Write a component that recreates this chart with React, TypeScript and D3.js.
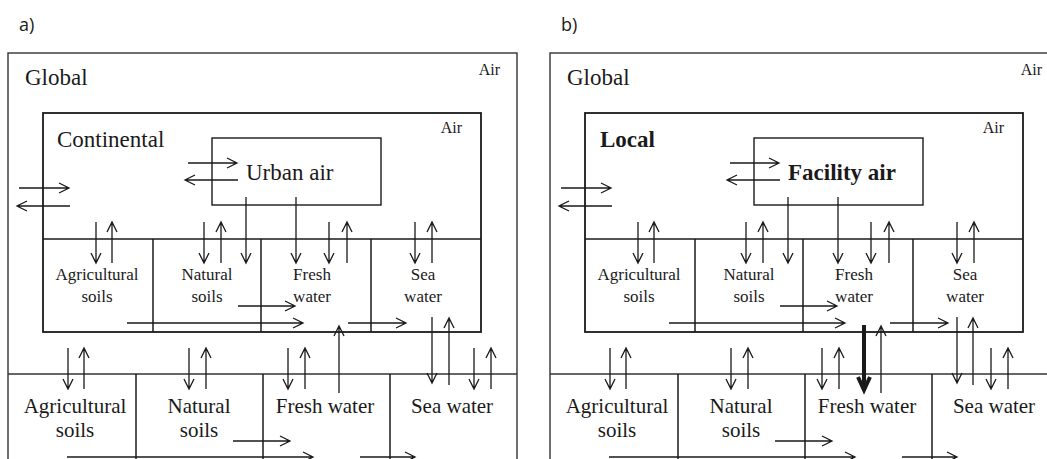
import React, { useEffect, useRef } from 'react';
import * as d3 from 'd3';

// panel labels and box texts
const panels = ['a)', 'b)'];
const regionNames = ['Continental', 'Local'];
const innerAirNames = ['Urban air', 'Facility air'];
const regionBold = [false, true];
const upperCompartments = [['Agricultural', 'soils'], ['Natural', 'soils'], ['Fresh', 'water'], ['Sea', 'water']];
const lowerCompartments = [['Agricultural', 'soils'], ['Natural', 'soils'], ['Fresh water'], ['Sea water']];

// diagram geometry in panel-local units [x1, y1, x2, y2]
const globalBox = [8, 53, 517, 520];
const regionBox = [43, 113, 481, 332];
const innerAirBox = [212, 138, 381, 205];
const upperDividers = [153, 261, 371];
const upperRowTop = 239;
const lowerRowTop = 374;
const lowerDividers = [136, 263, 390];
const upperCenters = [97, 207, 312, 423];
const lowerCenters = [75, 199, 325, 452];

// flows, both panels
const commonArrows = [
  [19, 188, 69, 188], [70, 206, 17, 206],
  [188, 163, 237, 163], [238, 180, 185, 180],
  [96, 222, 96, 263], [112, 263, 112, 222],
  [204, 222, 204, 263], [221, 263, 221, 222],
  [246, 197, 246, 263], [296, 197, 296, 263],
  [329, 222, 329, 263], [347, 263, 347, 222],
  [415, 222, 415, 263], [432, 263, 432, 222],
  [127, 323, 303, 323], [238, 306, 295, 306], [348, 323, 406, 323],
  [339, 393, 339, 326],
  [68, 348, 68, 389], [84, 389, 84, 348],
  [189, 348, 189, 389], [206, 389, 206, 348],
  [233, 441, 290, 441], [67, 457, 313, 457], [360, 457, 415, 457],
];
const arrowsA = [
  [288, 348, 288, 389], [305, 389, 305, 348],
  [474, 348, 474, 389], [491, 389, 491, 348],
  [432, 317, 432, 383], [449, 385, 449, 318],
];
const arrowsB = [
  [280, 348, 280, 389], [297, 389, 297, 348],
  [449, 348, 449, 389], [466, 389, 466, 348],
  [415, 317, 415, 383], [431, 385, 431, 318],
];
const thickArrowsB = [[322, 325, 322, 390]];
const panelOffsets = [0, 542];

const serif = '"Liberation Serif", "Times New Roman", serif';
const ink = '#1a1a1a';

const App = () => {
  const ref = useRef<SVGSVGElement>(null);

  useEffect(() => {
    const svg = d3.select(ref.current);
    svg.selectAll('*').remove();

    const drawArrow = (g, a, w = 1.3, head = 10, half = 5) => {
      const [x1, y1, x2, y2] = a;
      const ang = Math.atan2(y2 - y1, x2 - x1);
      const p = d3.path();
      p.moveTo(x1, y1);
      p.lineTo(x2, y2);
      p.moveTo(x2 - head * Math.cos(ang) + half * Math.sin(ang), y2 - head * Math.sin(ang) - half * Math.cos(ang));
      p.lineTo(x2, y2);
      p.lineTo(x2 - head * Math.cos(ang) - half * Math.sin(ang), y2 - head * Math.sin(ang) + half * Math.cos(ang));
      g.append('path')
        .attr('d', p.toString())
        .attr('fill', 'none')
        .attr('stroke', ink)
        .attr('stroke-width', w)
        .attr('stroke-linejoin', 'miter');
    };

    panelOffsets.forEach((off, i) => {
      const g = svg.append('g').attr('transform', `translate(${off},0)`);

      g.append('text')
        .attr('x', 19).attr('y', 31)
        .style('font-family', '"Open Sans", "Liberation Sans", sans-serif')
        .style('font-size', '18px')
        .attr('fill', ink)
        .text(panels[i]);

      // global box (panel b runs off the right edge)
      const gRight = i === 0 ? globalBox[2] : 520;
      g.append('rect')
        .attr('x', globalBox[0]).attr('y', globalBox[1])
        .attr('width', gRight - globalBox[0]).attr('height', globalBox[3] - globalBox[1])
        .attr('fill', 'none').attr('stroke', '#333').attr('stroke-width', 1.4);

      // lower row
      g.append('line')
        .attr('x1', globalBox[0]).attr('x2', gRight)
        .attr('y1', lowerRowTop).attr('y2', lowerRowTop)
        .attr('stroke', '#333').attr('stroke-width', 1.4);
      lowerDividers.forEach(x => {
        g.append('line')
          .attr('x1', x).attr('x2', x).attr('y1', lowerRowTop).attr('y2', 470)
          .attr('stroke', ink).attr('stroke-width', 1.5);
      });

      // regional box
      g.append('rect')
        .attr('x', regionBox[0]).attr('y', regionBox[1])
        .attr('width', regionBox[2] - regionBox[0]).attr('height', regionBox[3] - regionBox[1])
        .attr('fill', 'none').attr('stroke', ink).attr('stroke-width', 1.8);
      g.append('line')
        .attr('x1', regionBox[0]).attr('x2', regionBox[2])
        .attr('y1', upperRowTop).attr('y2', upperRowTop)
        .attr('stroke', ink).attr('stroke-width', 1.5);
      upperDividers.forEach(x => {
        g.append('line')
          .attr('x1', x).attr('x2', x).attr('y1', upperRowTop).attr('y2', regionBox[3])
          .attr('stroke', ink).attr('stroke-width', 1.5);
      });

      // inner air box
      g.append('rect')
        .attr('x', innerAirBox[0]).attr('y', innerAirBox[1])
        .attr('width', innerAirBox[2] - innerAirBox[0]).attr('height', innerAirBox[3] - innerAirBox[1])
        .attr('fill', 'none').attr('stroke', ink).attr('stroke-width', 1.4);

      const label = (x, y, txt, size, anchor = 'start', bold = false) =>
        g.append('text')
          .attr('x', x).attr('y', y)
          .attr('text-anchor', anchor)
          .style('font-family', serif)
          .style('font-size', `${size}px`)
          .style('font-weight', bold ? 'bold' : 'normal')
          .attr('fill', ink)
          .text(txt);

      label(25, 85, 'Global', 23);
      label(500, 75, 'Air', 16, 'end');
      label(462, 133, 'Air', 16, 'end');
      label(i === 0 ? 57 : 58, 147, regionNames[i], 23, 'start', regionBold[i]);
      label(246, 180, innerAirNames[i], 23, 'start', regionBold[i]);

      upperCompartments.forEach((lines, j) => {
        lines.forEach((t, k) => label(upperCenters[j], 280 + k * 22, t, 17, 'middle'));
      });
      lowerCompartments.forEach((lines, j) => {
        lines.forEach((t, k) => label(lowerCenters[j], 413 + k * 24, t, 21, 'middle'));
      });

      commonArrows.forEach(a => drawArrow(g, a));
      (i === 0 ? arrowsA : arrowsB).forEach(a => drawArrow(g, a));
      if (i === 1) thickArrowsB.forEach(a => drawArrow(g, a, 4, 13, 6));
    });
  }, []);

  return (
    <svg
      ref={ref}
      width={1047}
      height={459}
      style={{ position: 'absolute', left: 0, top: 0, background: '#fff' }}
    />
  );
};

export default App;
